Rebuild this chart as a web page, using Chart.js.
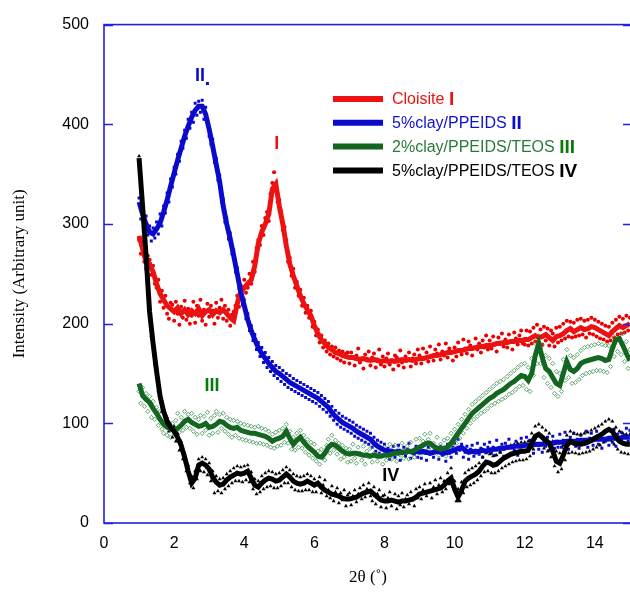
<!DOCTYPE html>
<html>
<head>
<meta charset="utf-8">
<script src="https://cdn.jsdelivr.net/npm/chart.js@4.4.1/dist/chart.umd.min.js"></script>
<style>
html,body{margin:0;padding:0;background:#fff;overflow:hidden;width:630px;height:594px;}
#wrap{position:absolute;left:0;top:0;width:640px;height:594px;}
</style>
</head>
<body>
<div id="wrap"><canvas id="c" width="640" height="594"></canvas></div>
<script>
// ---- data ----
const seriesNames = ["Cloisite", "5%clay/PPEIDS", "2%clay/PPEIDS/TEOS", "5%clay/PPEIDS/TEOS"];
const seriesNumerals = ["I", "II", "III", "IV"];
const xTicks = [0, 2, 4, 6, 8, 10, 12, 14];
const yTicks = [0, 100, 200, 300, 400, 500];

// smoothed curves, sampled at 2θ = 1.0, 1.1, ... 15.0
const lineStart = 1.0, lineStep = 0.1;
const cloisiteLine = [288,275,262,260,252,240,230,224,218,215,212,216,210,214,209,213,210,215,208,212,214,209,213,211,214,210,206,203,220,232,236,240,244,258,280,292,300,310,335,340,318,300,278,260,248,238,228,220,214,208,198,190,184,180,176,174,171,170,168,167,166,166,165,164,165,164,163,164,163,162,163,162,163,162,163,164,163,164,163,164,165,165,166,167,168,168,169,170,171,171,172,173,173,174,175,175,176,177,177,178,178,179,180,180,181,181,182,182,183,183,184,184,186,188,186,187,189,186,183,187,188,190,193,195,192,194,196,194,195,197,196,194,192,190,188,192,195,198,196,198,200];
const clayLine = [322,310,300,292,290,295,301,312,324,338,351,364,376,388,398,407,414,418,418,410,395,378,360,342,318,300,285,268,250,232,218,204,193,184,176,170,165,160,156,152,150,147,144,141,139,137,135,133,131,129,127,125,122,119,116,111,107,104,101,99,97,95,92,90,88,86,84,80,77,75,73,72,72,71,72,71,71,72,71,72,71,72,71,70,71,72,71,70,71,72,73,75,76,73,71,72,71,72,73,72,73,74,74,75,75,76,76,77,77,77,78,78,78,79,79,79,80,80,80,81,81,81,82,82,82,82,83,83,83,83,84,84,84,84,85,85,85,85,86,86,86];
const teos2Line = [140,128,124,121,115,110,104,99,96,94,94,95,98,102,104,101,99,97,98,100,96,97,99,102,101,98,96,95,96,93,92,91,90,90,89,88,87,85,82,84,85,87,92,85,79,83,86,81,77,74,71,67,66,70,76,79,78,75,72,70,69,70,70,69,68,68,67,68,67,67,68,68,69,70,70,71,71,72,72,74,76,78,80,80,77,75,74,75,76,80,85,90,95,100,105,110,113,116,119,122,125,127,130,132,134,137,140,142,145,148,147,143,150,168,180,166,155,152,146,140,138,150,162,154,152,155,160,162,163,164,165,166,165,163,164,175,184,185,178,170,163];
const teos5Line = [366,318,268,212,180,152,127,112,102,96,92,86,78,66,52,40,45,58,60,58,54,46,41,38,39,43,46,48,50,49,50,52,45,38,36,40,43,45,44,42,43,46,49,46,42,40,39,40,42,40,38,40,36,33,31,29,28,27,25,24,24,25,26,28,30,31,32,29,26,23,22,22,23,22,21,22,22,23,24,26,29,30,31,32,33,34,35,38,42,45,34,26,33,42,45,47,49,52,57,61,60,58,59,62,65,67,69,70,71,72,72,73,80,87,89,86,83,80,72,62,60,68,78,82,80,79,79,80,81,83,85,87,89,92,94,92,86,82,80,79,79];

// raw measured points, sampled at 2θ = 1.00, 1.05, ... 15.00
const pointStart = 1.0, pointStep = 0.05;
const cloisitePts = [
284,270,279,262,255,268,264,249,258,240,236,244,222,233,216,228,210,205,221,219,
203,222,210,199,217,206,223,204,215,200,208,222,201,218,208,224,203,214,199,220,
207,218,213,200,221,206,216,224,205,218,203,214,198,209,212,218,228,217,238,226,
244,231,236,250,240,262,252,276,284,279,298,289,306,312,303,330,341,352,333,322,
324,313,294,297,284,262,266,248,255,236,242,228,234,218,226,211,218,206,213,197,
202,188,194,181,188,176,183,172,180,169,177,167,176,165,173,163,172,161,170,171,
160,171,166,158,168,175,161,165,155,169,163,172,158,166,170,156,164,174,159,167,
157,165,170,159,162,154,168,166,158,173,161,156,167,163,171,157,165,169,160,174,
168,160,175,165,171,162,177,167,163,174,170,179,164,172,168,180,166,175,171,163,
176,167,181,173,169,184,175,170,182,178,168,176,185,174,180,171,183,176,188,174,
183,175,187,179,172,186,181,190,177,184,176,189,182,174,191,185,179,188,193,180,
179,193,178,192,180,196,182,199,181,194,179,197,183,195,178,193,190,177,196,181,
197,183,200,185,203,187,202,186,201,187,204,188,205,189,203,186,204,190,206,189,
204,187,202,185,200,184,198,182,197,183,201,186,204,189,207,190,205,191,208,193,
206];
const clayPts = [
326,305,314,296,308,289,298,283,296,286,302,290,310,298,318,311,331,322,345,337,
357,350,370,363,383,376,394,386,405,396,412,402,421,409,423,412,424,405,417,441,
388,380,385,362,366,344,349,322,325,302,306,285,291,270,274,252,256,235,238,219,
224,205,210,193,198,183,189,174,181,167,176,161,171,156,166,152,162,148,158,145,
156,142,153,139,150,136,148,134,145,132,143,130,141,128,139,126,137,124,135,122,
133,120,131,117,128,114,125,111,122,107,117,103,113,99,110,96,107,94,105,92,
103,90,101,87,98,85,96,83,94,81,92,79,90,76,86,72,83,70,81,68,
79,68,75,64,73,77,66,71,78,63,70,76,67,74,80,65,72,69,77,66,
74,65,78,70,63,76,69,79,66,72,75,64,77,68,73,62,79,70,66,76,
80,70,84,73,79,66,71,77,64,74,78,67,73,80,69,75,66,79,72,76,
81,70,76,68,83,74,71,79,67,80,75,84,70,77,73,82,68,78,85,72,
79,86,72,83,76,70,85,78,74,88,71,81,77,86,73,80,87,75,82,76,
89,76,83,91,78,74,86,80,90,77,84,75,88,81,79,92,76,85,90,78,
84,92,79,87,75,90,82,93,78,86,81,94,77,89,83,91,80,88,95,82,
93];
const teos2Pts = [
132,120,136,117,130,112,127,106,122,104,116,98,112,94,90,104,88,101,86,100,
89,103,110,91,106,93,112,96,109,95,110,92,106,89,104,108,90,107,93,111,
88,105,90,108,112,91,109,95,110,92,106,89,104,86,103,88,102,85,100,84,
99,83,98,82,97,81,96,80,97,80,95,79,94,78,92,76,89,75,91,77,
93,78,95,81,99,80,92,74,86,73,90,76,93,75,88,71,84,68,81,65,
79,62,72,59,74,66,63,78,84,70,88,73,83,69,80,64,78,66,75,61,
74,62,79,65,60,76,70,63,77,59,72,66,75,61,70,78,62,68,74,59,
76,63,71,79,64,70,78,62,74,68,80,65,73,77,64,81,70,66,84,72,
85,70,82,89,72,84,90,74,80,71,86,68,79,72,83,67,85,74,90,77,
94,80,99,85,104,90,109,95,114,100,119,104,122,107,125,110,128,112,131,115,
134,118,137,120,140,122,142,124,144,126,147,129,150,131,153,134,156,137,159,138,
160,134,156,132,165,148,180,160,188,160,178,146,168,140,165,136,160,130,152,127,
150,132,164,143,174,146,168,140,166,141,169,144,173,148,176,150,177,151,178,152,
179,153,180,153,179,152,178,151,178,157,188,167,196,172,196,169,190,162,182,155,
174];
const teos5Pts = [
368,335,322,286,272,233,216,188,184,160,156,133,131,112,115,100,106,92,99,86,
97,82,90,73,82,64,70,52,58,40,47,35,52,44,64,52,66,51,64,48,
60,42,52,30,47,32,44,30,45,34,49,37,52,40,55,42,57,42,56,41,
57,43,58,41,51,34,44,29,42,31,47,34,50,36,52,37,51,35,49,35,
50,37,53,40,56,40,53,36,49,33,47,32,46,32,47,33,49,33,47,31,
44,31,40,46,30,38,43,27,33,25,37,22,31,35,20,30,23,33,17,28,
30,18,27,33,21,29,35,24,38,26,34,40,27,22,36,19,29,33,16,27,
28,15,25,31,17,22,29,14,27,18,30,16,24,28,19,31,23,17,34,25,
36,24,33,39,27,32,40,25,36,43,29,38,45,31,42,34,50,39,55,37,
42,22,34,22,41,30,50,36,53,38,55,40,57,43,60,47,66,51,70,52,
69,50,67,50,68,52,71,55,74,57,76,59,78,61,79,62,80,63,81,63,
81,64,82,67,90,74,97,78,99,78,96,75,93,72,90,66,82,57,72,51,
70,54,78,63,88,70,92,71,90,70,89,69,89,70,90,71,91,72,93,74,
95,76,97,78,99,81,102,83,104,83,102,79,96,74,92,71,90,70,89,69,
89];

// label anchors (data coordinates)
const numeralAnchors = [[4.93, 380], [2.74, 448], [3.08, 137], [8.18, 47]];

// ---- styling ----
const lineColors = ["#ee1111", "#0a0acc", "#13661f", "#000000"];
const textColors = ["#ee1111", "#1010d0", "#2a7a3a", "#000000"];
const numeralColors = ["#ee1111", "#0a0acc", "#0a7a0a", "#000000"];
const axisBlue = "#2020dd";

function toXY(start, step, arr) {
  return arr.map((v, i) => ({ x: +(start + i * step).toFixed(2), y: v }));
}

const lines = [cloisiteLine, clayLine, teos2Line, teos5Line];
const pts = [cloisitePts, clayPts, teos2Pts, teos5Pts];

const datasets = [];
[3, 2, 1, 0].forEach(k => {
  datasets.push({
    label: seriesNames[k] + " line",
    data: toXY(lineStart, lineStep, lines[k]),
    showLine: true,
    borderColor: lineColors[k],
    backgroundColor: lineColors[k],
    borderWidth: 5,
    pointRadius: 0,
    tension: 0,
    borderJoinStyle: "miter"
  });
});
const ptStyles = ["circle", "rect", "rectRot", "triangle"];
const ptFill = ["#ee0000", "#0a0acc", "rgba(0,0,0,0)", "#000000"];
const ptBorder = ["#ee0000", "#0a0acc", "#4a9a5a", "#000000"];
const ptRadius = [2.0, 2.1, 2.1, 2.3];
[3, 2, 1, 0].forEach(k => {
  datasets.push({
    label: seriesNames[k] + " points",
    data: toXY(pointStart, pointStep, pts[k]),
    showLine: false,
    pointStyle: ptStyles[k],
    pointRadius: ptRadius[k],
    pointBackgroundColor: ptFill[k],
    pointBorderColor: ptBorder[k],
    pointBorderWidth: k === 2 ? 0.9 : 0
  });
});

const decor = {
  id: "decor",
  afterDraw(chart) {
    const ctx = chart.ctx;
    const a = chart.chartArea;
    const xs = chart.scales.x, ys = chart.scales.y;
    ctx.save();
    ctx.strokeStyle = axisBlue;
    ctx.lineWidth = 1.6;
    ctx.strokeRect(a.left, a.top, a.right - a.left, a.bottom - a.top);
    ctx.lineWidth = 1.3;
    yTicks.forEach(v => {
      const py = Math.round(ys.getPixelForValue(v)) + 0.5;
      ctx.beginPath();
      ctx.moveTo(a.left, py); ctx.lineTo(a.left + 9, py);
      ctx.moveTo(a.right - 9, py); ctx.lineTo(a.right, py);
      ctx.stroke();
    });
    ctx.font = "bold 18px 'Liberation Sans', Arial, sans-serif";
    ctx.textAlign = "center";
    ctx.textBaseline = "middle";
    numeralAnchors.forEach((p, k) => {
      ctx.fillStyle = numeralColors[k];
      ctx.fillText(seriesNumerals[k], xs.getPixelForValue(p[0]), ys.getPixelForValue(p[1]));
    });
    const lx = 333, ly = 99, dy = 23.8;
    ctx.textAlign = "left";
    for (let k = 0; k < 4; k++) {
      const y = ly + k * dy;
      ctx.strokeStyle = lineColors[k];
      ctx.lineWidth = 6;
      ctx.beginPath(); ctx.moveTo(lx, y); ctx.lineTo(lx + 50, y); ctx.stroke();
      ctx.font = "16px 'Liberation Sans', Arial, sans-serif";
      ctx.fillStyle = textColors[k];
      const t = seriesNames[k] + " ";
      ctx.fillText(t, lx + 59, y + 1);
      const w = ctx.measureText(t).width;
      ctx.font = "bold 19px 'Liberation Sans', Arial, sans-serif";
      ctx.fillStyle = numeralColors[k];
      ctx.fillText(seriesNumerals[k], lx + 59 + w, y + 1);
    }
    ctx.restore();
  }
};

new Chart(document.getElementById("c"), {
  type: "scatter",
  data: { datasets },
  plugins: [decor],
  options: {
    responsive: false,
    animation: false,
    events: [],
    layout: { padding: { top: 20, right: 8, bottom: 0, left: 0 } },
    plugins: { legend: { display: false }, tooltip: { enabled: false } },
    scales: {
      x: {
        type: "linear",
        min: 0,
        max: 15.06,
        grid: { display: false, drawTicks: false },
        border: { display: false },
        afterBuildTicks: s => { s.ticks = xTicks.map(v => ({ value: v })); },
        afterFit: s => { s.height = 71; },
        ticks: {
          color: "#000",
          padding: 11,
          font: { family: "'Liberation Sans', Arial, sans-serif", size: 16 },
          maxRotation: 0
        },
        title: {
          display: true,
          text: "2θ (˚)",
          color: "#000",
          font: { family: "'Liberation Serif', 'Times New Roman', serif", size: 17 },
          padding: { top: 0, bottom: 6 }
        }
      },
      y: {
        type: "linear",
        min: 0,
        max: 500,
        grid: { display: false, drawTicks: false },
        border: { display: false },
        afterBuildTicks: s => { s.ticks = yTicks.map(v => ({ value: v })); },
        afterFit: s => { s.width = 104; },
        ticks: {
          color: "#000",
          padding: 15,
          font: { family: "'Liberation Sans', Arial, sans-serif", size: 16 }
        },
        title: {
          display: true,
          text: "Intensity (Arbitrary unit)",
          color: "#000",
          font: { family: "'Liberation Serif', 'Times New Roman', serif", size: 17 },
          padding: { top: 9, bottom: 0 }
        }
      }
    }
  }
});
</script>
</body>
</html>
